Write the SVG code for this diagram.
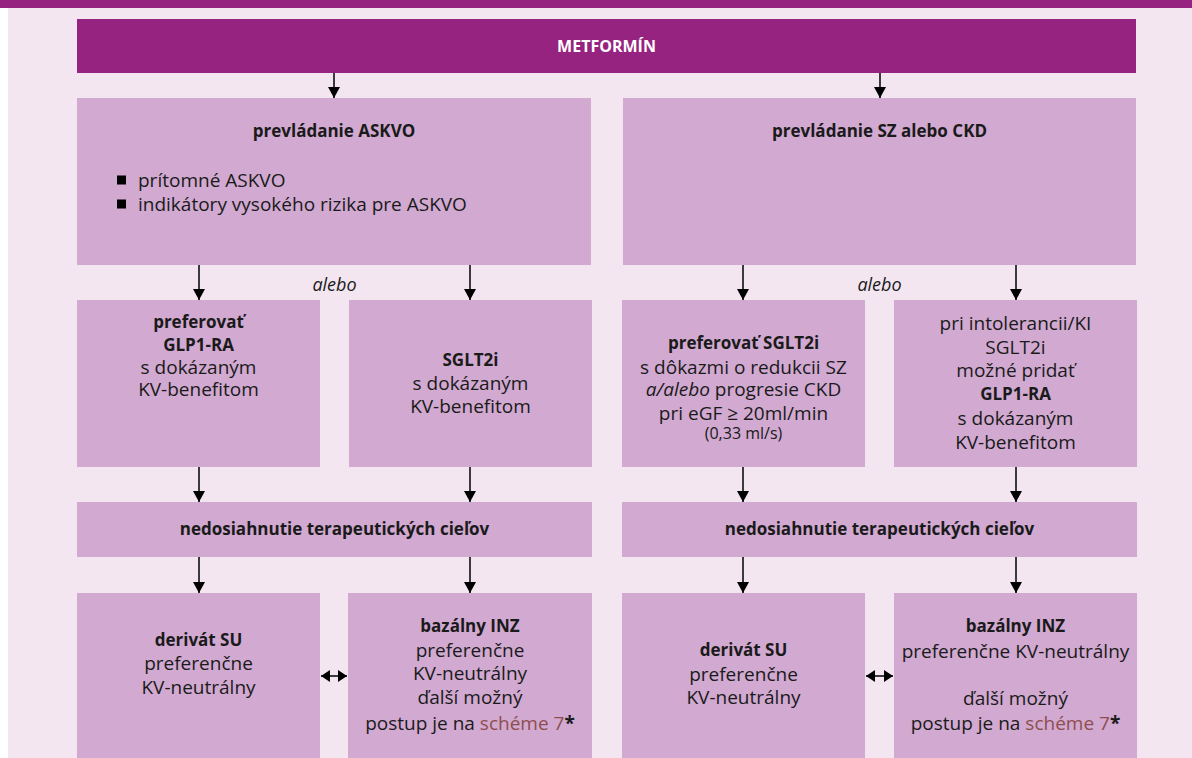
<svg xmlns="http://www.w3.org/2000/svg" width="1192" height="758" viewBox="0 0 1192 758">
<defs>
<style>
.bg{fill:#F3E6F1}
.dark{fill:#96237F}
.box{fill:#D1A9D1}
text{font-family:"Open Sans","Noto Sans","DejaVu Sans",sans-serif;font-size:19px;fill:#1a1a1a;text-anchor:middle}
.b{font-weight:bold;font-size:17px}
.i{font-style:italic;font-size:18px}
.l{text-anchor:start}
.w{fill:#ffffff;font-weight:bold;font-size:16px}
.sm{font-size:16px}
.link{fill:#8E4E4E}
.conn line{stroke:#000;stroke-width:1.5}
</style>
<marker id="ah" markerUnits="userSpaceOnUse" markerWidth="12" markerHeight="12" refX="11" refY="6" orient="auto">
<path d="M0,0 L11,6 L0,12 z" fill="#000"/>
</marker>
<marker id="ah2" markerUnits="userSpaceOnUse" markerWidth="10" markerHeight="12" refX="9" refY="6" orient="auto-start-reverse">
<path d="M0,0 L9,6 L0,12 z" fill="#000"/>
</marker>
</defs>
<rect class="bg" x="8" y="8" width="1184" height="750"/>
<rect class="dark" x="0" y="0" width="1192" height="8"/>

<g id="metformin">
<rect class="dark" x="77" y="19" width="1059" height="54"/>
<text class="w" x="606.5" y="51.5">METFORMÍN</text>
</g>

<g id="askvo">
<rect class="box" x="77" y="98" width="514" height="167"/>
<text class="b" x="334" y="137">prevládanie ASKVO</text>
<rect fill="#000" x="117" y="175.5" width="9" height="9"/>
<text class="l" x="138" y="186.5">prítomné ASKVO</text>
<rect fill="#000" x="117" y="199.5" width="9" height="9"/>
<text class="l" x="138" y="210.5">indikátory vysokého rizika pre ASKVO</text>
</g>

<g id="szckd">
<rect class="box" x="623" y="98" width="513" height="167"/>
<text class="b" x="879.5" y="137">prevládanie SZ alebo CKD</text>
</g>

<g id="alebo-labels">
<text class="i" x="334.5" y="290.5">alebo</text>
<text class="i" x="879.5" y="290.5">alebo</text>
</g>

<g id="glp1">
<rect class="box" x="77" y="300" width="243" height="167"/>
<text class="b" x="198.5" y="328">preferovať</text>
<text class="b" x="198.5" y="351">GLP1-RA</text>
<text x="198.5" y="373.5">s dokázaným</text>
<text x="198.5" y="395.5">KV-benefitom</text>
</g>

<g id="sglt2">
<rect class="box" x="349" y="300" width="243" height="167"/>
<text class="b" x="470.5" y="366">SGLT2i</text>
<text x="470.5" y="389.5">s dokázaným</text>
<text x="470.5" y="412.5">KV-benefitom</text>
</g>

<g id="sglt2-pref">
<rect class="box" x="622" y="300" width="243" height="167"/>
<text class="b" x="743.5" y="349">preferovať SGLT2i</text>
<text x="743.5" y="373.5">s dôkazmi o redukcii SZ</text>
<text x="743.5" y="395.5"><tspan font-style="italic">a/alebo</tspan> progresie CKD</text>
<text x="743.5" y="419.5">pri eGF ≥ 20ml/min</text>
<text class="sm" x="743.5" y="438.5">(0,33 ml/s)</text>
</g>

<g id="intolerancia">
<rect class="box" x="894" y="300" width="243" height="167"/>
<text x="1015.5" y="329.5">pri intolerancii/KI</text>
<text x="1015.5" y="353.5">SGLT2i</text>
<text x="1015.5" y="376.5">možné pridať</text>
<text class="b" x="1015.5" y="400">GLP1-RA</text>
<text x="1015.5" y="424.5">s dokázaným</text>
<text x="1015.5" y="448.5">KV-benefitom</text>
</g>

<g id="ciele-left">
<rect class="box" x="77" y="502" width="515" height="55"/>
<text class="b" x="334.5" y="535">nedosiahnutie terapeutických cieľov</text>
</g>

<g id="ciele-right">
<rect class="box" x="622" y="502" width="515" height="55"/>
<text class="b" x="879.5" y="535">nedosiahnutie terapeutických cieľov</text>
</g>

<g id="su-left">
<rect class="box" x="77" y="593" width="243" height="165"/>
<text class="b" x="198.5" y="646">derivát SU</text>
<text x="198.5" y="669.5">preferenčne</text>
<text x="198.5" y="693.5">KV-neutrálny</text>
</g>

<g id="inz-left">
<rect class="box" x="348" y="593" width="244" height="165"/>
<text class="b" x="470" y="632">bazálny INZ</text>
<text x="470" y="656.5">preferenčne</text>
<text x="470" y="679.5">KV-neutrálny</text>
<text x="470" y="703.5">ďalší možný</text>
<text x="470" y="729.5">postup je na <tspan class="link">schéme 7</tspan><tspan font-weight="bold">*</tspan></text>
</g>

<g id="su-right">
<rect class="box" x="622" y="593" width="243" height="165"/>
<text class="b" x="743.5" y="656">derivát SU</text>
<text x="743.5" y="680.5">preferenčne</text>
<text x="743.5" y="703.5">KV-neutrálny</text>
</g>

<g id="inz-right">
<rect class="box" x="894" y="593" width="243" height="165"/>
<text class="b" x="1015.5" y="632">bazálny INZ</text>
<text x="1015.5" y="657.5">preferenčne KV-neutrálny</text>
<text x="1015.5" y="704.5">ďalší možný</text>
<text x="1015.5" y="729.5">postup je na <tspan class="link">schéme 7</tspan><tspan font-weight="bold">*</tspan></text>
</g>

<g id="connectors" class="conn">
<line x1="334" y1="73" x2="334" y2="98" marker-end="url(#ah)"/>
<line x1="880" y1="73" x2="880" y2="98" marker-end="url(#ah)"/>
<line x1="199" y1="265" x2="199" y2="300" marker-end="url(#ah)"/>
<line x1="470" y1="265" x2="470" y2="300" marker-end="url(#ah)"/>
<line x1="743" y1="265" x2="743" y2="300" marker-end="url(#ah)"/>
<line x1="1016" y1="265" x2="1016" y2="300" marker-end="url(#ah)"/>
<line x1="199" y1="467" x2="199" y2="502" marker-end="url(#ah)"/>
<line x1="470" y1="467" x2="470" y2="502" marker-end="url(#ah)"/>
<line x1="743" y1="467" x2="743" y2="502" marker-end="url(#ah)"/>
<line x1="1016" y1="467" x2="1016" y2="502" marker-end="url(#ah)"/>
<line x1="199" y1="557" x2="199" y2="593" marker-end="url(#ah)"/>
<line x1="470" y1="557" x2="470" y2="593" marker-end="url(#ah)"/>
<line x1="743" y1="557" x2="743" y2="593" marker-end="url(#ah)"/>
<line x1="1016" y1="557" x2="1016" y2="593" marker-end="url(#ah)"/>
<line x1="321" y1="676" x2="347" y2="676" marker-start="url(#ah2)" marker-end="url(#ah2)"/>
<line x1="866" y1="676" x2="893" y2="676" marker-start="url(#ah2)" marker-end="url(#ah2)"/>
</g>
</svg>
